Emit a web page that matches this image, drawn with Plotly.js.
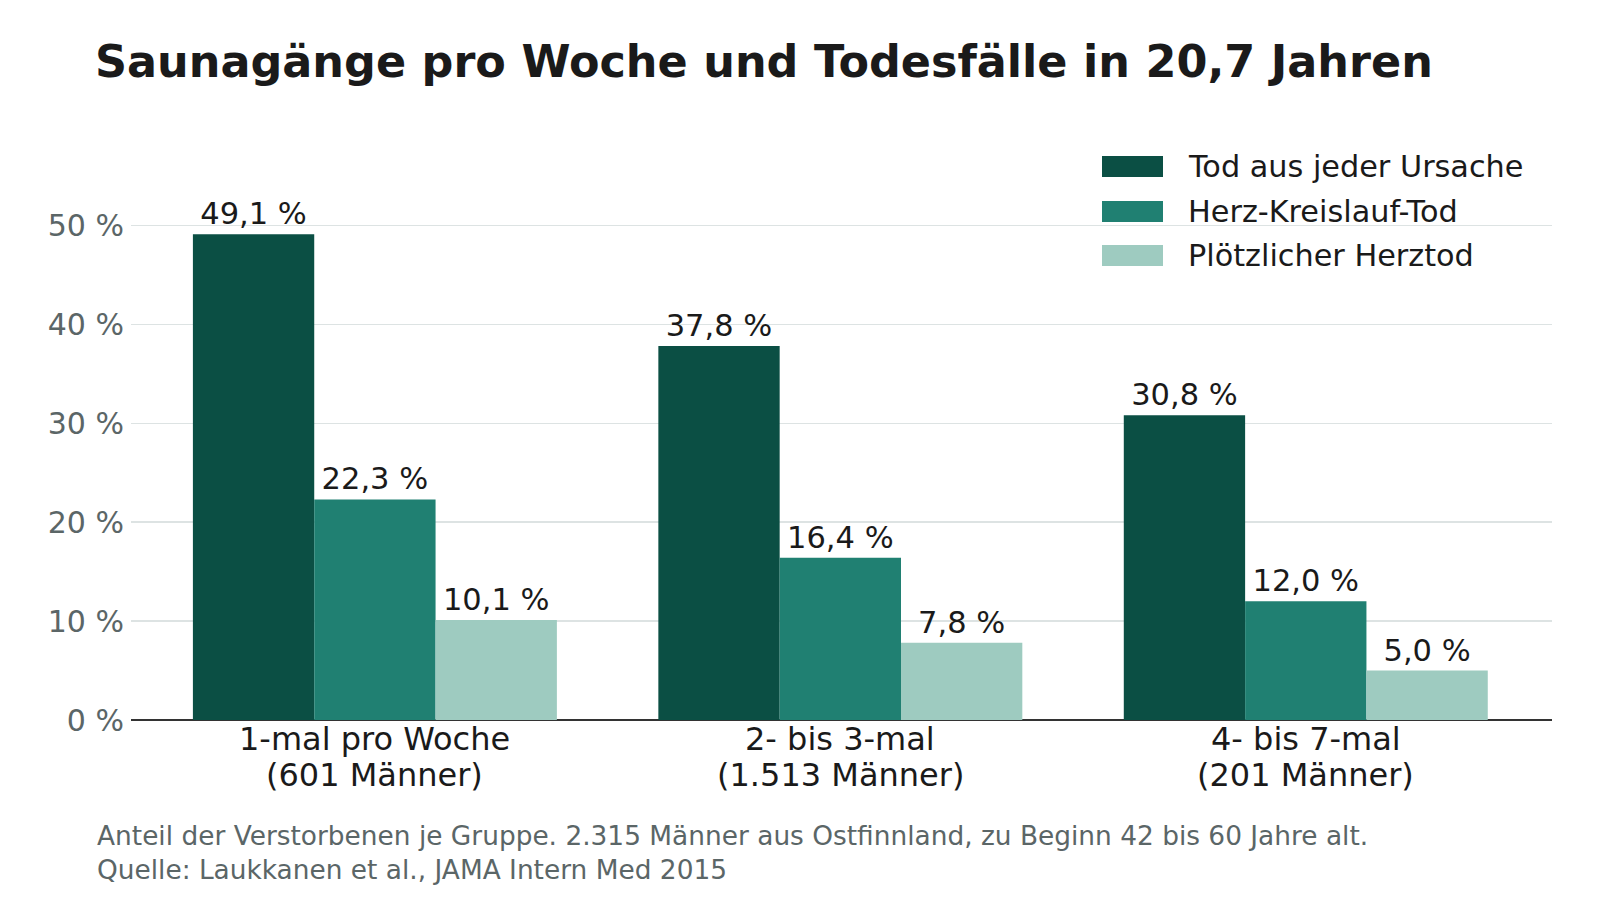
<!DOCTYPE html>
<html>
<head>
<meta charset="utf-8">
<script src="https://cdn.plot.ly/plotly-3.0.1.min.js"></script>
<style>html,body{margin:0;padding:0;background:#fff;}#chart{width:1600px;height:900px;}</style>
</head>
<body>
<div id="chart"></div>
<script>
const categories = ["1-mal pro Woche", "2- bis 3-mal", "4- bis 7-mal"];
const groupSizes = ["(601 Männer)", "(1.513 Männer)", "(201 Männer)"];
const seriesNames = ["Tod aus jeder Ursache", "Herz-Kreislauf-Tod", "Plötzlicher Herztod"];
const allCause = [49.1, 37.8, 30.8];
const cardiovascular = [22.3, 16.4, 12.0];
const suddenCardiac = [10.1, 7.8, 5.0];
const yTicks = [0, 10, 20, 30, 40, 50];
const yTickLabels = ["0 %", "10 %", "20 %", "30 %", "40 %", "50 %"];
const colors = ["#0b4f44", "#208072", "#9ecbc0"];

const FONT = "DejaVu Sans, sans-serif";
const values = [allCause, cardiovascular, suddenCardiac];
const fmt = v => v.toFixed(1).replace(".", ",") + " %";

const traces = values.map((vals, i) => ({
  type: "bar",
  name: seriesNames[i],
  x: categories,
  y: vals,
  marker: {color: colors[i], line: {width: 0}},
  text: vals.map(fmt),
  textposition: "outside",
  textfont: {family: FONT, size: 30.5, color: "#1a1a1a"},
  cliponaxis: false,
  hoverinfo: "skip",
  showlegend: false
}));

// pixel helpers for paper coordinates (plot area: x 131..1552, y 175.5..720)
const px = x => (x - 131) / 1421;
const py = y => (720 - y) / 544.5;

const shapes = [];
const annotations = [];
const legY = [166, 211, 255];
seriesNames.forEach((n, i) => {
  shapes.push({type: "rect", xref: "paper", yref: "paper",
    x0: px(1102), x1: px(1163), y0: py(legY[i] - 10.5), y1: py(legY[i] + 10.5),
    fillcolor: colors[i], line: {width: 0}});
  annotations.push({xref: "paper", yref: "paper", x: px(1186), y: py(legY[i]),
    xanchor: "left", yanchor: "middle", showarrow: false, text: n,
    font: {family: FONT, size: 30.3, color: "#1a1a1a"}});
});
categories.forEach((c, i) => {
  annotations.push({xref: "x", yref: "paper", x: c, y: py(739), xanchor: "center", yanchor: "middle",
    showarrow: false, text: c, font: {family: FONT, size: 32, color: "#1a1a1a"}});
  annotations.push({xref: "x", yref: "paper", x: c, y: py(775.5), xanchor: "center", yanchor: "middle",
    showarrow: false, text: groupSizes[i], font: {family: FONT, size: 32, color: "#1a1a1a"}});
});
annotations.push({xref: "paper", yref: "paper", x: px(95), y: py(836),
  xanchor: "left", yanchor: "middle", showarrow: false, align: "left",
  text: "Anteil der Verstorbenen je Gruppe. 2.315 Männer aus Ostfinnland, zu Beginn 42 bis 60 Jahre alt.",
  font: {family: FONT, size: 26.4, color: "#5b6667"}});
annotations.push({xref: "paper", yref: "paper", x: px(95), y: py(870),
  xanchor: "left", yanchor: "middle", showarrow: false, align: "left",
  text: "Quelle: Laukkanen et al., JAMA Intern Med 2015",
  font: {family: FONT, size: 26.4, color: "#5b6667"}});

const layout = {
  width: 1600, height: 900,
  paper_bgcolor: "#ffffff", plot_bgcolor: "#ffffff",
  margin: {l: 131, r: 48, t: 175.5, b: 180},
  font: {family: FONT, color: "#1a1a1a"},
  title: {text: "<b>Saunagänge pro Woche und Todesfälle in 20,7 Jahren</b>",
    x: 95 / 1600, xanchor: "left", xref: "container", y: 1 - 61 / 900, yref: "container", yanchor: "middle",
    font: {family: FONT, size: 44.5, color: "#1a1a1a"}},
  barmode: "group", bargap: 0.218, bargroupgap: 0,
  showlegend: false,
  xaxis: {type: "category", range: [-0.524, 2.529], showgrid: false, zeroline: false,
    showline: false, ticks: "", showticklabels: false, fixedrange: true},
  yaxis: {range: [0, 55], tickvals: yTicks, ticktext: yTickLabels, showgrid: true, gridcolor: "#dde3e3",
    gridwidth: 1.5, zeroline: true, zerolinecolor: "#333333", zerolinewidth: 1.5, showline: false, ticks: "",
    ticklabelstandoff: 6,
    tickfont: {family: FONT, size: 30, color: "#5b6667"}, fixedrange: true},
  shapes: shapes,
  annotations: annotations
};

Plotly.newPlot("chart", traces, layout, {displayModeBar: false, staticPlot: true});
</script>
</body>
</html>
